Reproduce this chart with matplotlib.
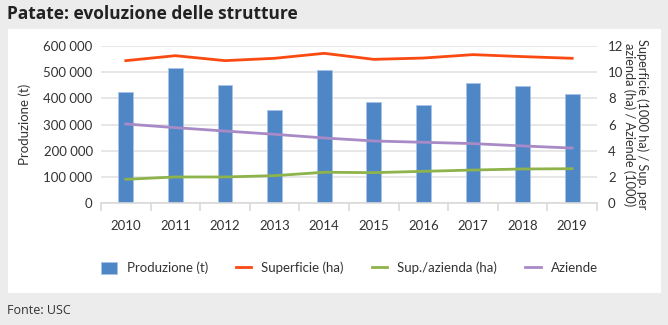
import numpy as np
import matplotlib
matplotlib.use("Agg")
import matplotlib.pyplot as plt
from matplotlib.patches import Rectangle
from matplotlib.ticker import FuncFormatter

years = ["2010", "2011", "2012", "2013", "2014", "2015", "2016", "2017", "2018", "2019"]
produzione = [423000, 517000, 451000, 357000, 507000, 387000, 376000, 460000, 447000, 416000]
superficie = [10.88, 11.26, 10.88, 11.06, 11.44, 10.98, 11.08, 11.34, 11.19, 11.06]
sup_azienda = [1.81, 1.99, 1.99, 2.09, 2.35, 2.32, 2.42, 2.52, 2.60, 2.62]
aziende = [6.04, 5.76, 5.50, 5.25, 4.97, 4.74, 4.64, 4.54, 4.36, 4.20]

blue = "#4f86c6"
red = "#fa4a12"
green = "#8db34a"
purple = "#a88bc6"
grid_c = "#e3e3e3"
txt = "#333333"

plt.rcParams["font.family"] = ["Lato", "DejaVu Sans"]

W, H = 668, 325
fig = plt.figure(figsize=(W / 100, H / 100), dpi=100, facecolor="#ececec")

# white panel
fig.patches.append(Rectangle((8 / W, (H - 293) / H), 653 / W, 264 / H,
                             transform=fig.transFigure, facecolor="white",
                             edgecolor="none", zorder=-10))

fig.text(7 / W, 1 - 14 / H, "Patate: evoluzione delle strutture", fontsize=12.5,
         fontweight="bold", family=["Open Sans", "DejaVu Sans"], color="#222222",
         va="center", ha="left")
fig.text(7 / W, 1 - 311 / H, "Fonte: USC", fontsize=9, color=txt,
         family=["Open Sans", "DejaVu Sans"], va="center", ha="left")

ax = fig.add_axes([101 / W, (H - 203) / H, 496 / W, 157 / H])
ax.set_facecolor("none")
x = np.arange(len(years))
bars = ax.bar(x, produzione, width=0.30, color=blue, edgecolor="#a9c4e6",
              linewidth=0.6, zorder=2, label="Produzione (t)")
ax.set_xlim(-0.5, len(years) - 0.5)
ax.set_ylim(0, 600000)
ax.set_yticks(np.arange(0, 600001, 100000))
ax.yaxis.set_major_formatter(FuncFormatter(lambda v, p: f"{int(v):,}".replace(",", " ")))
ax.grid(axis="y", color=grid_c, linewidth=1.2, zorder=0)
ax.set_axisbelow(True)
for s in ["top", "right", "left"]:
    ax.spines[s].set_visible(False)
ax.spines["bottom"].set_color("#d9d9d9")
ax.spines["bottom"].set_linewidth(1.2)
ax.set_xticks(x)
ax.set_xticklabels(years)
ax.set_xticks(np.arange(-0.5, len(years), 1.0), minor=True)
ax.tick_params(axis="x", which="major", length=0, pad=12, labelsize=9.5, colors=txt)
ax.tick_params(axis="x", which="minor", length=6, color="#d9d9d9", width=1.2)
ax.tick_params(axis="y", length=0, pad=6, labelsize=9.5, colors=txt)
ax.set_ylabel("Produzione (t)", fontsize=9.5, color=txt, labelpad=9)

ax2 = ax.twinx()
ax2.set_ylim(0, 12)
ax2.set_yticks(np.arange(0, 13, 2))
l1, = ax2.plot(x, superficie, color=red, linewidth=2.0, label="Superficie (ha)")
l2, = ax2.plot(x, sup_azienda, color=green, linewidth=2.0, label="Sup./azienda (ha)")
l3, = ax2.plot(x, aziende, color=purple, linewidth=2.0, label="Aziende")
for s in ["top", "right", "left", "bottom"]:
    ax2.spines[s].set_visible(False)
ax2.tick_params(axis="y", length=0, pad=8, labelsize=9.5, colors=txt)
ax2.set_ylabel("Superficie (1000 ha) / Sup. per\nazienda (ha) / Aziende (1000)",
               fontsize=9.2, color=txt, rotation=270, labelpad=18, linespacing=1.05)

fig.legend(handles=[bars, l1, l2, l3], loc="center left",
           bbox_to_anchor=(89 / W, 1 - 268 / H), ncol=4, frameon=False,
           fontsize=9.5, handlelength=1.2, handleheight=1.0, handletextpad=0.75,
           columnspacing=2.1, labelcolor=txt)

fig.savefig("out.png", dpi=100, facecolor=fig.get_facecolor())
